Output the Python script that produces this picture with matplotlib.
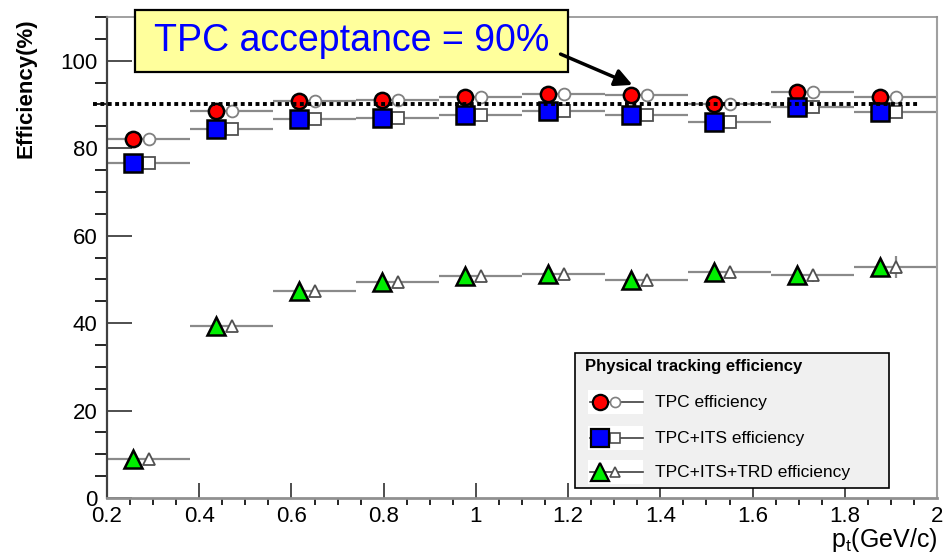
import matplotlib
matplotlib.use('Agg')
import matplotlib.pyplot as plt
from matplotlib.patches import Rectangle, FancyArrowPatch
from matplotlib.lines import Line2D

plt.rcParams['font.family'] = ['Liberation Sans', 'DejaVu Sans']
plt.rcParams['mathtext.default'] = 'regular'

# ---- data ----
pt_centers = [0.29, 0.47, 0.65, 0.83, 1.01, 1.19, 1.37, 1.55, 1.73, 1.91]
bin_half = 0.09  # bins are 0.18 GeV/c wide
eff_tpc = [82.2, 88.4, 90.7, 91.1, 91.6, 92.3, 92.1, 90.2, 92.8, 91.6]
eff_tpc_its = [76.7, 84.3, 86.6, 87.0, 87.7, 88.4, 87.7, 85.9, 89.5, 88.2]
eff_tpc_its_trd = [9.0, 39.4, 47.3, 49.5, 50.8, 51.2, 49.8, 51.7, 50.9, 52.8]
err_tpc_its_trd = [0, 0, 0, 0, 0, 0, 0.5, 1.0, 1.5, 2.5]
acceptance = 90
x_ticks = [0.2, 0.4, 0.6, 0.8, 1.0, 1.2, 1.4, 1.6, 1.8, 2.0]
x_tick_labels = ['0.2', '0.4', '0.6', '0.8', '1', '1.2', '1.4', '1.6', '1.8', '2']
y_ticks = [0, 20, 40, 60, 80, 100]
legend_labels = ['TPC efficiency', 'TPC+ITS efficiency', 'TPC+ITS+TRD efficiency']

W, H = 946, 557
shift = 0.034  # filled markers sit slightly left of the open ones


def fxy(x, y):
    # pixel (from top-left) -> figure fraction
    return x / W, 1 - y / H


fig = plt.figure(figsize=(W / 100, H / 100), dpi=100)
ax = fig.add_axes([107 / W, 1 - 498 / H, (937 - 107) / W, (498 - 17) / H])
ax.set_xlim(0.2, 2.0)
ax.set_ylim(0, 110)

series = [
    (eff_tpc, None, 'o', 'red', 11, 8.5, '#808080'),
    (eff_tpc_its, None, 's', 'blue', 12.5, 8, '#505050'),
    (eff_tpc_its_trd, err_tpc_its_trd, '^', '#00ee00', 13, 9, '#505050'),
]
filled_x = [c - shift for c in pt_centers]
for vals, yerr, mk, col, ms_f, ms_h, ec in series:
    ax.errorbar(pt_centers, vals, xerr=bin_half, yerr=yerr, fmt='none',
                ecolor='#8a8a8a', elinewidth=1.6, capsize=0, zorder=2)
    ax.plot(pt_centers, vals, linestyle='none', marker=mk, ms=ms_h,
            mfc='white', mec=ec, mew=1.3, zorder=3)
    ax.plot(filled_x, vals, linestyle='none', marker=mk, ms=ms_f,
            mfc=col, mec='black', mew=1.8, zorder=4)

ax.axhline(acceptance, xmin=-0.017, xmax=0.98, color='black', lw=2.8,
           linestyle=(0, (1, 0.9)), clip_on=False, zorder=6)

ax.set_xticks(x_ticks)
ax.set_xticklabels(x_tick_labels)
ax.set_yticks(y_ticks)
ax.set_xticks([0.2 + 0.05 * i for i in range(37)], minor=True)
ax.set_yticks(range(0, 111, 5), minor=True)
ax.tick_params(axis='both', direction='in', labelsize=16, colors='#303030',
               width=1.2, top=False, right=False)
ax.tick_params(axis='y', which='major', length=18, pad=7)
ax.tick_params(axis='y', which='minor', length=9, width=1.2)
ax.tick_params(axis='x', which='major', length=11, pad=6)
ax.tick_params(axis='x', which='minor', length=5, width=1.2)
for lab in ax.get_xticklabels() + ax.get_yticklabels():
    lab.set_color('black')

ax.spines['left'].set_color('#404040')
ax.spines['left'].set_linewidth(1.6)
ax.spines['bottom'].set_color('#909090')
ax.spines['bottom'].set_linewidth(2)
ax.spines['top'].set_color('#909090')
ax.spines['top'].set_linewidth(1.2)
ax.spines['right'].set_color('#a0a0a0')
ax.spines['right'].set_linewidth(1.5)

fig.text(*fxy(26, 18), 'Efficiency(%)', rotation=90, ha='center', va='top',
         fontsize=16, fontweight='bold')
fig.text(*fxy(937, 540), 'p$_t$(GeV/c)', ha='right', va='center', fontsize=18)

# annotation box with arrow
x0, y0 = fxy(135, 72)
x1, y1 = fxy(568, 10)
fig.add_artist(Rectangle((x0, y0), x1 - x0, y1 - y0, transform=fig.transFigure,
                         facecolor='#ffff9c', edgecolor='black', lw=1.6, zorder=5))
fig.text(*fxy(352, 41), 'TPC acceptance = 90%', ha='center', va='center',
         fontsize=27, color='#0000ff', zorder=6)
fig.add_artist(FancyArrowPatch(fxy(558, 53), fxy(635, 86), transform=fig.transFigure,
                               arrowstyle='-|>', mutation_scale=26, lw=2.5,
                               color='black', zorder=6))

# legend drawn by hand
x0, y0 = fxy(575, 488)
x1, y1 = fxy(889, 353)
fig.add_artist(Rectangle((x0, y0), x1 - x0, y1 - y0, transform=fig.transFigure,
                         facecolor='#f0f0f0', edgecolor='black', lw=1.2, zorder=5))
fig.text(*fxy(585, 367), 'Physical tracking efficiency', ha='left', va='center',
         fontsize=12, fontweight='bold', zorder=6)
for (vals, yerr, mk, col, ms_f, ms_h, ec), label, ry in zip(series, legend_labels, [402, 438, 472]):
    bx0, by0 = fxy(588, ry + 12)
    bx1, by1 = fxy(643, ry - 12)
    fig.add_artist(Rectangle((bx0, by0), bx1 - bx0, by1 - by0, transform=fig.transFigure,
                             facecolor='white', edgecolor='none', zorder=6))
    lx0, ly = fxy(590, ry)
    lx1, _ = fxy(643, ry)
    fig.add_artist(Line2D([lx0, lx1], [ly, ly], transform=fig.transFigure,
                          color='#404040', lw=1.2, zorder=7))
    hx, _ = fxy(615, ry)
    fig.add_artist(Line2D([hx], [ly], transform=fig.transFigure, marker=mk, ms=ms_h * 0.85,
                          mfc='white', mec=ec, mew=1.2, zorder=8))
    fx, _ = fxy(600, ry)
    fig.add_artist(Line2D([fx], [ly], transform=fig.transFigure, marker=mk, ms=ms_f,
                          mfc=col, mec='black', mew=1.6, zorder=9))
    fig.text(*fxy(655, ry), label, ha='left', va='center', fontsize=12.5, zorder=7)

fig.savefig('out.png', dpi=100)
